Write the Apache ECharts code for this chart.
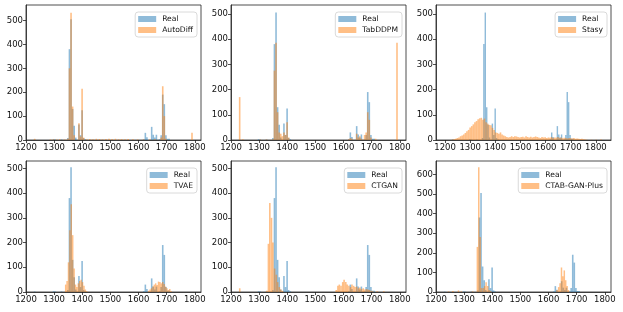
<!DOCTYPE html>
<html><head><meta charset="utf-8">
<script src="https://cdn.jsdelivr.net/npm/echarts@6/dist/echarts.min.js"></script>
<style>html,body{margin:0;padding:0;background:#fff}#c{width:623px;height:312px}</style>
</head><body><div id="c"></div><script>
// ---- data: histogram bins as [bin centre, count] ----
const xTicks = [1200, 1300, 1400, 1500, 1600, 1700, 1800];
const yTicks500 = [0, 100, 200, 300, 400, 500];
const yTicks600 = [0, 100, 200, 300, 400, 500, 600];

const realBinWidth = 5.62;
const realBins = [[1230.8,2],[1298.2,3],[1303.9,2],[1326.3,2],[1348.8,8],[1354.4,380],[1360.1,505],[1365.7,130],[1371.3,60],[1376.9,10],[1388.2,65],[1393.8,20],[1399.4,125],[1405.0,8],[1410.6,3],[1618.6,3],[1624.2,30],[1629.8,12],[1646.7,55],[1652.3,22],[1657.9,10],[1663.5,22],[1674.8,3],[1680.4,20],[1686.0,190],[1691.6,150],[1697.3,20],[1702.9,5],[1708.5,5]];

const autoDiffBinWidth = 5.65;
const autoDiffBins = [[1230.8,5],[1287,2],[1298,3],[1309,2],[1320,3],[1337,2],[1348.8,5],[1354.4,300],[1360.1,533],[1365.7,140],[1371.3,20],[1388.2,70],[1393.8,15],[1399.4,215],[1405,10],[1416,3],[1427,4],[1438,3],[1450,5],[1461,4],[1472,3],[1484,4],[1495,5],[1506,4],[1518,5],[1529,3],[1540,4],[1552,3],[1563,4],[1580,3],[1597,2],[1618,3],[1641,3],[1658,4],[1680.4,10],[1686,225],[1691.6,100],[1697.3,5],[1790,30]];

const tabDDPMBinWidth = 5.65;
const tabDDPMBins = [[1230.8,170],[1242,3],[1304,2],[1326,2],[1348.8,3],[1354.4,275],[1360.1,385],[1365.7,110],[1371.3,30],[1376.9,25],[1382.5,15],[1388.2,30],[1393.8,20],[1399.4,70],[1405,10],[1618.6,3],[1624.2,8],[1629.8,5],[1646.7,25],[1652.3,10],[1657.9,15],[1663.5,5],[1674.8,20],[1680.4,30],[1686,110],[1691.6,80],[1697.3,10],[1714,5],[1790,385]];

const stasyBinWidth = 6.35;
const stasyBins = [[1230.0,2],[1236.3,3],[1242.7,5],[1249.0,8],[1255.4,10],[1261.7,15],[1268.1,18],[1274.4,22],[1280.8,28],[1287.1,35],[1293.5,40],[1299.8,50],[1306.2,55],[1312.5,62],[1318.9,70],[1325.2,75],[1331.6,82],[1337.9,86],[1344.3,88],[1350.6,80],[1357.0,85],[1363.3,70],[1369.7,65],[1376.0,60],[1382.4,58],[1388.7,48],[1395.1,40],[1401.4,30],[1407.8,28],[1414.1,25],[1420.5,30],[1426.8,22],[1433.2,18],[1439.5,15],[1445.9,12],[1452.2,10],[1458.6,12],[1464.9,15],[1471.3,12],[1477.6,15],[1484.0,14],[1490.3,12],[1496.7,10],[1503.0,12],[1509.4,13],[1515.7,10],[1522.1,15],[1528.4,12],[1534.8,10],[1541.1,13],[1547.5,10],[1553.8,12],[1560.2,14],[1566.5,12],[1572.9,10],[1579.2,8],[1585.6,12],[1591.9,10],[1598.3,11],[1604.6,8],[1611.0,10],[1617.3,9],[1623.7,12],[1630.0,8],[1636.4,10],[1642.7,9],[1649.1,12],[1655.4,8],[1661.8,10],[1668.1,7],[1674.5,9],[1680.8,8],[1687.2,6],[1693.5,8],[1699.9,7],[1706.2,6],[1712.6,8],[1718.9,5],[1725.3,6],[1731.6,5],[1738.0,4],[1744.3,5],[1750.7,3],[1757.0,2],[1763.4,1],[1782.4,1],[1801.5,1],[1820.5,2]];

const tvaeBinWidth = 5.2;
const tvaeBins = [[1341,30],[1346,45],[1351,120],[1356,250],[1361,355],[1366,230],[1371,95],[1376,30],[1381,20],[1386,35],[1391,45],[1396,50],[1401,40],[1406,25],[1411,10],[1416,3],[1636,5],[1641,10],[1646,15],[1651,22],[1656,30],[1661,35],[1666,28],[1671,42],[1676,40],[1681,35],[1686,40],[1691,32],[1696,22],[1701,15],[1706,8],[1711,12],[1716,3]];

const ctganBinWidth = 5.6;
const ctganBins = [[1231,15],[1327,5],[1333,195],[1338,360],[1344,300],[1349,200],[1355,95],[1361,70],[1366,40],[1372,20],[1377,10],[1383,5],[1574,8],[1580,25],[1585,30],[1591,25],[1597,40],[1602,50],[1608,40],[1613,30],[1619,25],[1625,20],[1630,30],[1636,25],[1641,20],[1647,22],[1653,15],[1658,18],[1664,12],[1670,15],[1675,10],[1681,12],[1687,10],[1692,8],[1698,5],[1704,3],[1720,3],[1743,3]];

const ctabBinWidth = 5.3;
const ctabBins = [[1245,3],[1260,5],[1280,8],[1290,3],[1330,3],[1347,230],[1352,636],[1357,280],[1362,20],[1368,20],[1373,30],[1378,50],[1384,30],[1389,10],[1394,5],[1630,10],[1636,25],[1641,45],[1646,125],[1651,80],[1656,110],[1661,60],[1666,30],[1671,10]];

// ---- panels ----
const panels = [
  {name:'AutoDiff', bins:autoDiffBins, w:autoDiffBinWidth, xmin:1200, xmax:1822, ymax:565, yt:yTicks500},
  {name:'TabDDPM', bins:tabDDPMBins, w:tabDDPMBinWidth, xmin:1200, xmax:1822, ymax:535, yt:yTicks500},
  {name:'Stasy', bins:stasyBins, w:stasyBinWidth, xmin:1164, xmax:1860, ymax:535, yt:yTicks500},
  {name:'TVAE', bins:tvaeBins, w:tvaeBinWidth, xmin:1200, xmax:1822, ymax:530, yt:yTicks500},
  {name:'CTGAN', bins:ctganBins, w:ctganBinWidth, xmin:1200, xmax:1822, ymax:530, yt:yTicks500},
  {name:'CTAB-GAN-Plus', bins:ctabBins, w:ctabBinWidth, xmin:1200, xmax:1822, ymax:668, yt:yTicks600}
];
const colLeft = [26, 231, 436];
const colWidth = 175;
const rowTop = [5, 161];
const rowHeight = [135, 131];

const BLUE = 'rgba(31,119,180,0.5)';
const ORANGE = 'rgba(255,127,14,0.5)';
const FS = 8.5;
const LFS = 7.6;

function barSeries(name, bins, w, gi, color) {
  return {
    type: 'custom', name: name, xAxisIndex: gi, yAxisIndex: gi,
    itemStyle: {color: color}, clip: true,
    data: bins,
    renderItem: function (params, api) {
      const c = api.value(0), v = api.value(1);
      const p0 = api.coord([c - w / 2, 0]);
      const p1 = api.coord([c + w / 2, v]);
      return {type: 'rect', shape: {x: p0[0], y: p1[1], width: p1[0] - p0[0], height: p0[1] - p1[1]},
              style: {fill: color}};
    }
  };
}

const grids = [], xAxes = [], yAxes = [], series = [], legends = [];
panels.forEach(function (p, i) {
  const r = Math.floor(i / 3), c = i % 3;
  grids.push({left: colLeft[c], top: rowTop[r], width: colWidth, height: rowHeight[r],
    show: true, borderColor: '#222', borderWidth: 0.8, backgroundColor: 'transparent'});
  xAxes.push({type: 'value', gridIndex: i, min: p.xmin, max: p.xmax,
    axisLine: {show: true, onZero: false, lineStyle: {color: '#222', width: 0.8}},
    axisTick: {show: true, length: 3, lineStyle: {color: '#222', width: 0.8}, customValues: xTicks},
    axisLabel: {fontSize: FS, color: '#111', margin: 3, fontFamily: 'DejaVu Sans', customValues: xTicks,
      formatter: function (v) { return String(v); }},
    splitLine: {show: false}});
  yAxes.push({type: 'value', gridIndex: i, min: 0, max: p.ymax,
    axisLine: {show: true, lineStyle: {color: '#222', width: 0.8}},
    axisTick: {show: true, length: 3, lineStyle: {color: '#222', width: 0.8}, customValues: p.yt},
    axisLabel: {fontSize: FS, color: '#111', margin: 3, fontFamily: 'DejaVu Sans', customValues: p.yt,
      formatter: function (v) { return String(v); }},
    splitLine: {show: false}});
  series.push(barSeries('Real', realBins, realBinWidth, i, BLUE));
  series.push(barSeries(p.name, p.bins, p.w, i, ORANGE));
  legends.push({
    data: ['Real', p.name], orient: 'vertical',
    right: 623 - (colLeft[c] + colWidth) + 4, top: rowTop[r] + 7,
    icon: 'rect', itemWidth: 18, itemHeight: 6, itemGap: 3,
    padding: [3, 4, 3, 3],
    borderColor: '#d0d0d0', borderWidth: 0.8, borderRadius: 3,
    backgroundColor: 'rgba(255,255,255,0.8)',
    selectedMode: false,
    textStyle: {fontSize: LFS, color: '#111', fontFamily: 'DejaVu Sans', padding: [0, 0, 0, 1]}
  });
});

const chart = echarts.init(document.getElementById('c'), null, {renderer: 'canvas'});
chart.setOption({
  animation: false, backgroundColor: '#fff',
  grid: grids, xAxis: xAxes, yAxis: yAxes, series: series, legend: legends
});
</script></body></html>
